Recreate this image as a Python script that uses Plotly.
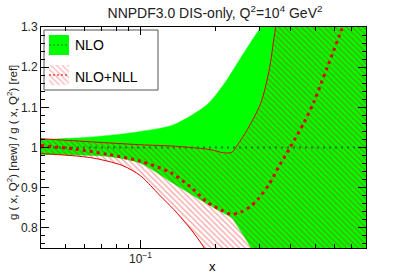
import plotly.graph_objects as go

# ---------------- data ----------------
# NLO band (green)
nlo_up_x = [0.04, 0.06, 0.08, 0.1, 0.136, 0.185, 0.215, 0.252, 0.284, 0.303, 0.35, 0.45, 0.6, 0.81]
nlo_up_y = [1.020, 1.025, 1.032, 1.040, 1.057, 1.107, 1.156, 1.223, 1.273, 1.300, 1.38, 1.55, 1.8, 2.2]
nlo_lo_x = [0.04, 0.074, 0.1, 0.136, 0.185, 0.215, 0.232, 0.245, 0.269, 0.29, 0.4, 0.81]
nlo_lo_y = [0.983, 0.978, 0.961, 0.91, 0.86, 0.837, 0.825, 0.804, 0.764, 0.73, 0.6, 0.4]
nlo_c_x = [0.04, 0.1, 0.81]
nlo_c_y = [1.0, 1.0, 1.0]

# NLO+NLL band (red hatched)
nll_up_x = [0.04, 0.1, 0.132, 0.16, 0.19, 0.215, 0.232, 0.245, 0.268, 0.303, 0.327, 0.348, 0.4, 0.81]
nll_up_y = [1.022, 1.007, 1.004, 1.0, 0.995, 0.987, 0.988, 1.007, 1.045, 1.11, 1.19, 1.3, 1.5, 2.5]
nll_lo_x = [0.04, 0.063, 0.085, 0.1, 0.11, 0.12, 0.136, 0.159, 0.178, 0.2, 0.3, 0.81]
nll_lo_y = [0.985, 0.975, 0.955, 0.93, 0.905, 0.88, 0.846, 0.797, 0.755, 0.7, 0.5, 0.3]
nll_c_x = [0.04, 0.055, 0.074, 0.1, 0.132, 0.16, 0.185, 0.21, 0.23, 0.252, 0.275, 0.295,
           0.327, 0.36, 0.4, 0.45, 0.496, 0.56, 0.64, 0.66]
nll_c_y = [1.005, 0.996, 0.983, 0.966, 0.938, 0.9, 0.864, 0.845, 0.834, 0.839, 0.853, 0.871,
           0.908, 0.955, 1.003, 1.06, 1.115, 1.2, 1.295, 1.32]

legend_labels = ["NLO", "NLO+NLL"]
x_ticks = [0.1]
x_ticktext = ["10<sup>−1</sup>"]
x_minor = [0.04, 0.05, 0.06, 0.07, 0.08, 0.09, 0.2, 0.3, 0.4, 0.5, 0.6, 0.7, 0.8]
y_ticks = [0.8, 0.9, 1.0, 1.1, 1.2, 1.3]
y_ticktext = ["0.8", "0.9", "1", "1.1", "1.2", "1.3"]

GREEN = "#00ff00"
DKGREEN = "#1f7a1f"
RED = "#e00000"
FONT = "Liberation Sans, Arial, sans-serif"

fig = go.Figure()

# green band
fig.add_trace(go.Scatter(x=nlo_lo_x, y=nlo_lo_y, mode="lines",
                         line=dict(color=GREEN, width=0.5, shape="spline", smoothing=0.8),
                         showlegend=False, hoverinfo="skip"))
fig.add_trace(go.Scatter(x=nlo_up_x, y=nlo_up_y, mode="lines", fill="tonexty",
                         fillcolor=GREEN,
                         line=dict(color=GREEN, width=0.5, shape="spline", smoothing=0.8),
                         showlegend=False, hoverinfo="skip"))

# red hatched band
fig.add_trace(go.Scatter(x=nll_lo_x, y=nll_lo_y, mode="lines",
                         line=dict(color=RED, width=1, shape="spline", smoothing=0.8),
                         showlegend=False, hoverinfo="skip"))
fig.add_trace(go.Scatter(x=nll_up_x, y=nll_up_y, mode="lines", fill="tonexty",
                         fillcolor="rgba(0,0,0,0)",
                         fillpattern=dict(shape="\\", fgcolor="rgba(230,0,0,0.75)",
                                          bgcolor="rgba(0,0,0,0)", size=4, solidity=0.3),
                         line=dict(color=RED, width=1, shape="spline", smoothing=0.8),
                         showlegend=False, hoverinfo="skip"))

# central lines
fig.add_trace(go.Scatter(x=nlo_c_x, y=nlo_c_y, mode="lines",
                         line=dict(color=DKGREEN, width=2, dash="2px,4px"),
                         showlegend=False, hoverinfo="skip"))
fig.add_trace(go.Scatter(x=nll_c_x, y=nll_c_y, mode="lines",
                         line=dict(color=RED, width=3, dash="3px,4px", shape="spline", smoothing=0.8),
                         showlegend=False, hoverinfo="skip"))

# ---------- legend drawn on an overlay axis (pixel-like units) ----------
box_x = [3, 117, 117, 3, 3]
box_y = [158, 158, 218, 218, 158]
fig.add_trace(go.Scatter(x=box_x, y=box_y, xaxis="x2", yaxis="y2", mode="lines",
                         fill="toself", fillcolor="white",
                         line=dict(color="#555555", width=1),
                         showlegend=False, hoverinfo="skip"))
sw1_x = [8, 28, 28, 8, 8]
sw1_y = [193, 193, 213, 213, 193]
fig.add_trace(go.Scatter(x=sw1_x, y=sw1_y, xaxis="x2", yaxis="y2", mode="lines",
                         fill="toself", fillcolor=GREEN, line=dict(color=GREEN, width=0),
                         showlegend=False, hoverinfo="skip"))
fig.add_trace(go.Scatter(x=[8, 28], y=[203, 203], xaxis="x2", yaxis="y2", mode="lines",
                         line=dict(color=DKGREEN, width=1, dash="2px,2px"),
                         showlegend=False, hoverinfo="skip"))
sw2_x = [8, 28, 28, 8, 8]
sw2_y = [163, 163, 183, 183, 163]
fig.add_trace(go.Scatter(x=sw2_x, y=sw2_y, xaxis="x2", yaxis="y2", mode="lines",
                         fill="toself", fillcolor="rgba(0,0,0,0)",
                         fillpattern=dict(shape="\\", fgcolor="rgba(230,0,0,0.6)",
                                          bgcolor="rgba(0,0,0,0)", size=4, solidity=0.3),
                         line=dict(color="rgba(0,0,0,0)", width=0),
                         showlegend=False, hoverinfo="skip"))
fig.add_trace(go.Scatter(x=[8, 28], y=[173, 173], xaxis="x2", yaxis="y2", mode="lines",
                         line=dict(color=RED, width=1, dash="2px,2px"),
                         showlegend=False, hoverinfo="skip"))

annotations = [
    dict(x=32, y=203, xref="x2", yref="y2", text=legend_labels[0], showarrow=False,
         xanchor="left", yanchor="middle", font=dict(size=14, color="black", family=FONT)),
    dict(x=32, y=171, xref="x2", yref="y2", text=legend_labels[1], showarrow=False,
         xanchor="left", yanchor="middle", font=dict(size=14, color="black", family=FONT)),
    dict(x=(212 - 41) / 325, y=(248 - 266) / 221, xref="paper", yref="paper", text="x",
         showarrow=False, xanchor="center", yanchor="middle",
         font=dict(size=13, color="black", family=FONT)),
    dict(x=-0.0, xshift=-29, y=(248 - 143) / 221, xref="paper", yref="paper",
         text="g ( x, Q<sup>2</sup>) [new] / g ( x, Q<sup>2</sup>) [ref]", textangle=-90,
         showarrow=False, xanchor="center", yanchor="middle",
         font=dict(size=11.5, color="#222222", family=FONT)),
]

fig.update_layout(
    width=407, height=276,
    margin=dict(l=41, r=41, t=27, b=28, autoexpand=False),
    paper_bgcolor="white", plot_bgcolor="white",
    font=dict(family=FONT, color="black"),
    title=dict(text="NNPDF3.0 DIS-only, Q<sup>2</sup>=10<sup>4</sup> GeV<sup>2</sup>",
               x=(215 / 407), xanchor="center", y=1 - 13 / 276, yanchor="middle",
               font=dict(size=14, family=FONT, color="#222222")),
    showlegend=False,
    annotations=annotations,
    xaxis=dict(type="log", range=[-1.39794, -0.0969], showgrid=False, zeroline=False,
               automargin=False,
               tickmode="array", tickvals=x_ticks, ticktext=x_ticktext,
               ticks="inside", ticklen=8, tickcolor="black", tickwidth=1,
               minor=dict(tickmode="array", tickvals=x_minor, ticks="inside", ticklen=4,
                          tickcolor="black"),
               showline=True, linecolor="black", linewidth=1, mirror="ticks",
               tickfont=dict(size=12, family=FONT, color="#222222")),
    yaxis=dict(range=[0.75, 1.3], showgrid=False, zeroline=False, automargin=False,
               tickmode="array", tickvals=y_ticks, ticktext=y_ticktext,
               ticks="inside", ticklen=8, tickcolor="black", tickwidth=1,
               minor=dict(dtick=0.02, tick0=0.8, ticks="inside", ticklen=4, tickcolor="black"),
               showline=True, linecolor="black", linewidth=1, mirror="ticks",
               tickfont=dict(size=12, family=FONT, color="#222222")),
    xaxis2=dict(domain=[0, 1], range=[0, 325], overlaying="x", anchor="y2", visible=False,
                fixedrange=True),
    yaxis2=dict(domain=[0, 1], range=[0, 221], overlaying="y", anchor="x2", visible=False,
                fixedrange=True),
)

fig.write_html("out.html", config={"displayModeBar": False},
               post_script="document.body.style.margin='0';document.body.style.padding='0';"
                           "document.body.style.overflow='hidden';")
